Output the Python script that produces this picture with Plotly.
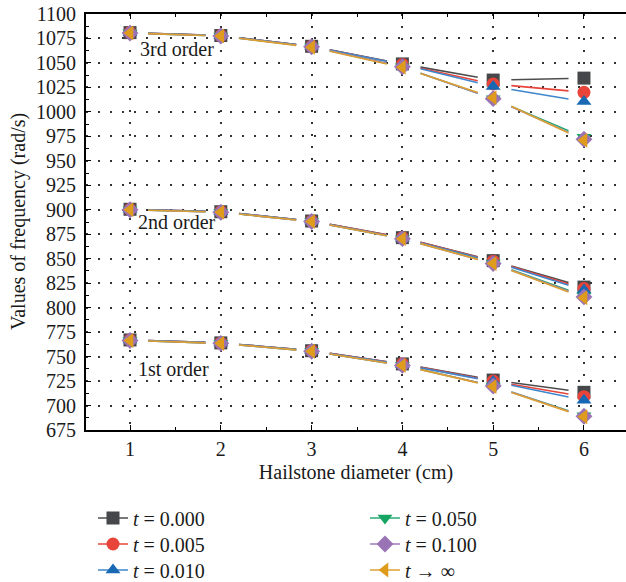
import plotly.graph_objects as go

# ---------------- data ----------------
diameters = [1, 2, 3, 4, 5, 6]
x_ticks = [1, 2, 3, 4, 5, 6]
y_ticks = list(range(675, 1101, 25))

labels = ["<i>t</i> = 0.000", "<i>t</i> = 0.005", "<i>t</i> = 0.010",
          "<i>t</i> = 0.050", "<i>t</i> = 0.100", "<i>t</i> → ∞"]

# 1st order frequencies (rad/s)
first_t000 = [767.0, 764.0, 756.0, 742.5, 726.0, 713.5]
first_t005 = [767.0, 764.0, 756.0, 742.5, 725.0, 709.0]
first_t010 = [767.0, 764.0, 756.0, 742.0, 724.5, 705.5]
first_t050 = [766.5, 763.5, 755.5, 741.0, 720.0, 689.5]
first_t100 = [766.5, 763.5, 755.5, 741.0, 720.0, 689.0]
first_tinf = [766.5, 763.5, 755.5, 741.0, 719.5, 688.5]

# 2nd order frequencies (rad/s)
second_t000 = [900.5, 898.0, 888.5, 871.5, 848.0, 821.0]
second_t005 = [900.5, 898.0, 888.5, 871.5, 847.5, 819.5]
second_t010 = [900.5, 898.0, 888.5, 871.0, 847.0, 818.0]
second_t050 = [900.0, 897.5, 888.0, 870.5, 845.5, 812.0]
second_t100 = [900.0, 897.5, 888.0, 870.5, 845.0, 811.0]
second_tinf = [900.0, 897.5, 888.0, 870.5, 845.0, 810.0]

# 3rd order frequencies (rad/s)
third_t000 = [1081.0, 1078.0, 1067.0, 1049.0, 1032.5, 1034.5]
third_t005 = [1081.0, 1078.0, 1067.0, 1048.5, 1028.5, 1020.0]
third_t010 = [1081.0, 1078.0, 1067.0, 1048.5, 1026.0, 1010.5]
third_t050 = [1080.5, 1077.5, 1066.5, 1046.0, 1013.5, 974.0]
third_t100 = [1080.5, 1077.5, 1066.5, 1046.0, 1013.5, 972.0]
third_tinf = [1080.5, 1077.5, 1066.0, 1045.5, 1014.5, 971.0]

order_labels = ["3rd order", "2nd order", "1st order"]

# ---------------- styles ----------------
line_colors = ["#4d4d4d", "#e8443a", "#3f86cc", "#27ad78", "#a17bbb", "#dca032"]
marker_colors = ["#45474a", "#e8443a", "#1868b4", "#16a463", "#9a73b5", "#de9b1c"]
symbols = ["square", "circle", "triangle-up", "triangle-down", "diamond", "triangle-left"]

series = [
    [first_t000, second_t000, third_t000],
    [first_t005, second_t005, third_t005],
    [first_t010, second_t010, third_t010],
    [first_t050, second_t050, third_t050],
    [first_t100, second_t100, third_t100],
    [first_tinf, second_tinf, third_tinf],
]

GAP_L = 0.2
GAP_R = 0.17


def gapped(xs, ys):
    lx, ly = [], []
    for i in range(len(xs) - 1):
        dx = xs[i + 1] - xs[i]
        slope = (ys[i + 1] - ys[i]) / dx
        lx += [xs[i] + GAP_L, xs[i + 1] - GAP_R, None]
        ly += [ys[i] + slope * GAP_L, ys[i + 1] - slope * GAP_R, None]
    return lx, ly


fig = go.Figure()
FONT = "Liberation Serif"

# lines (with gaps around markers)
for k, orders in enumerate(series):
    lx, ly = [], []
    for ys in orders:
        a, b = gapped(diameters, ys)
        lx += a
        ly += b
    fig.add_trace(go.Scatter(x=lx, y=ly, mode="lines", showlegend=False,
                             line=dict(color=line_colors[k], width=1.6),
                             hoverinfo="skip"))

# markers
for k, orders in enumerate(series):
    mx, my = [], []
    for ys in orders:
        mx += diameters
        my += ys
    fig.add_trace(go.Scatter(x=mx, y=my, mode="markers", showlegend=False,
                             marker=dict(symbol=symbols[k], size=13,
                                         color=marker_colors[k], line=dict(width=0))))

# legend entries: one small legend per entry (2 columns x 3 rows)
legend_names = ["legend", "legend2", "legend3", "legend4", "legend5", "legend6"]
for k in range(6):
    fig.add_trace(go.Scatter(x=[None], y=[None], mode="lines+markers",
                             name=labels[k], legend=legend_names[k],
                             line=dict(color=line_colors[k], width=1.6),
                             marker=dict(symbol=symbols[k], size=13,
                                         color=marker_colors[k], line=dict(width=0))))

# order labels
fig.add_annotation(x=1.52, y=1064, text=order_labels[0], showarrow=False,
                   font=dict(family=FONT, size=20, color="#1a1a1a"))
fig.add_annotation(x=1.52, y=887, text=order_labels[1], showarrow=False,
                   font=dict(family=FONT, size=20, color="#1a1a1a"))
fig.add_annotation(x=1.48, y=737, text=order_labels[2], showarrow=False,
                   font=dict(family=FONT, size=20, color="#1a1a1a"))

# y-axis title
fig.add_annotation(x=-68 / 540, y=0.5, xref="paper", yref="paper",
                   text="Values of frequency (rad/s)", textangle=-90,
                   showarrow=False, xanchor="center", yanchor="middle",
                   font=dict(family=FONT, size=20, color="#1a1a1a"))

grid_style = dict(showgrid=True, gridcolor="#333333", gridwidth=1.5,
                  griddash="1.5px,10.5px")

legend_layout = {}
col_x = [93, 365]
row_y = [518, 544, 570]
for k, name in enumerate(legend_names):
    legend_layout[name] = dict(
        x=col_x[k // 3] / 626, xref="container",
        y=1 - row_y[k % 3] / 582, yref="container",
        xanchor="left", yanchor="middle", orientation="v",
        font=dict(family=FONT, size=20), bgcolor="rgba(0,0,0,0)")

fig.update_layout(
    width=626, height=582,
    margin=dict(l=86, r=0, t=14, b=152, autoexpand=False),
    paper_bgcolor="white", plot_bgcolor="white",
    font=dict(family=FONT, size=20, color="#1a1a1a"),
    xaxis=dict(range=[0.515, 6.463], tickvals=x_ticks, ticks="inside", ticklen=5,
               tickcolor="black", showline=True, linecolor="black", linewidth=2,
               mirror="ticks", zeroline=False,
               minor=dict(dtick=0.5, tick0=0.5, ticks="inside", ticklen=3, tickcolor="black"),
               title=dict(text="Hailstone diameter (cm)", standoff=6,
                          font=dict(family=FONT, size=20)),
               tickfont=dict(family=FONT, size=20), **grid_style),
    yaxis=dict(range=[675, 1100], tickvals=y_ticks, ticks="inside", ticklen=5,
               tickcolor="black", showline=True, linecolor="black", linewidth=2,
               zeroline=False, ticklabelstandoff=4,
               minor=dict(dtick=12.5, tick0=675, ticks="inside", ticklen=3, tickcolor="black"),
               tickfont=dict(family=FONT, size=20), **grid_style),
    **legend_layout,
)

fig.write_html("out.html")
